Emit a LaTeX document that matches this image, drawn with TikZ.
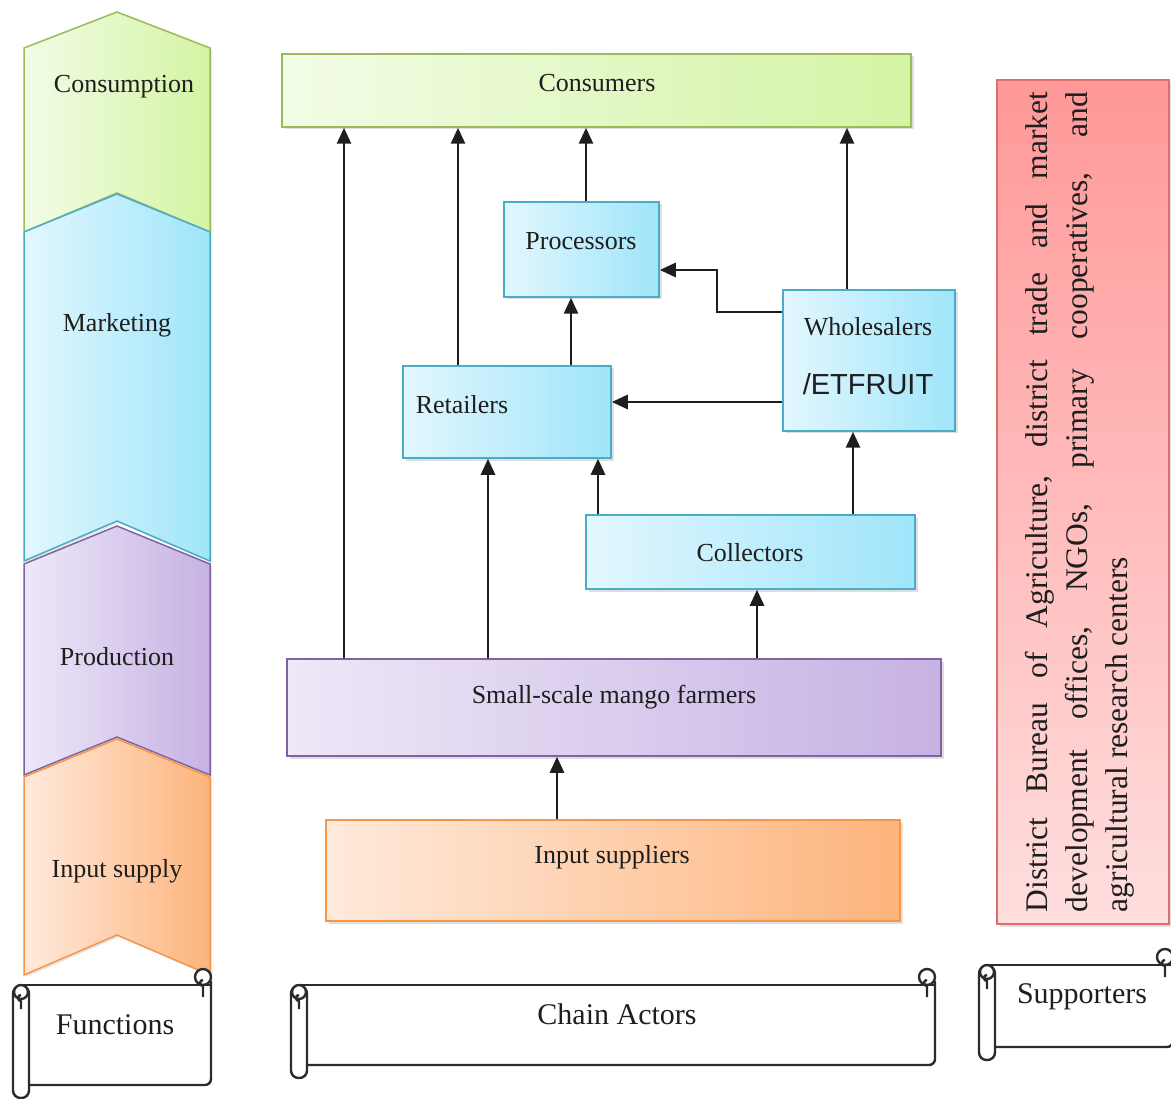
\documentclass[tikz,border=0pt]{standalone}
\usepackage{fontspec}
\setmainfont{Liberation Serif}
\newfontfamily\arialfont{Liberation Sans}
\usetikzlibrary{arrows.meta,shadows}

\definecolor{grnL}{HTML}{F2FCE6}
\definecolor{grnR}{HTML}{D4F4A4}
\definecolor{grnB}{HTML}{9BBB59}
\definecolor{bluL}{HTML}{E2F7FE}
\definecolor{bluR}{HTML}{A0E5FA}
\definecolor{bluB}{HTML}{4BACC6}
\definecolor{purL}{HTML}{EEE8F8}
\definecolor{purR}{HTML}{C6B2E3}
\definecolor{purB}{HTML}{8064A2}
\definecolor{orgL}{HTML}{FFEADC}
\definecolor{orgR}{HTML}{FDB47C}
\definecolor{orgB}{HTML}{F79646}
\definecolor{redT}{HTML}{FF9898}
\definecolor{redBot}{HTML}{FFDEDE}
\definecolor{redB}{HTML}{D9706C}
\definecolor{scrollc}{HTML}{2B2B2B}
\definecolor{ink}{HTML}{1E1E1E}

% chevron: #1 colour prefix, #2 top apex, #3 shoulder, #4 bottom corners, #5 bottom apex
\newcommand{\chevron}[5]{%
  \draw[line width=1.5pt, draw=#1B, left color=#1L, right color=#1R,
        drop shadow={shadow xshift=2pt, shadow yshift=-2pt, opacity=0.2}]
    (24,#3) -- (117,#2) -- (210,#3) -- (210,#4) -- (117,#5) -- (24,#4) -- cycle;}

% scroll banner: #1 left, #2 top edge, #3 right, #4 bottom edge
\newcommand{\scrollbanner}[4]{%
  \draw[scroll] (#1+8,#2) -- (#3,#2);
  \draw[scroll, rounded corners=6pt] (#3,#2-4) -- (#3,#4) -- (#1+10,#4);
  \draw[scroll, fill=white] (#3-8,#2-8) circle (8);
  \draw[scroll] (#3-8,#2-8) ++(0,3) arc (-90:-270:3) -- ++(0,11);
  \draw[scroll, fill=white, rounded corners=7.5pt] (#1,#2+1) rectangle (#1+16,#4+13);
  \draw[scroll, fill=white] (#1+8,#2+7) circle (7);
  \draw[scroll] (#1+8,#2+7) ++(0,3) arc (-90:-270:3) -- ++(0,8);}

\begin{document}
\begin{tikzpicture}[x=1pt,y=-1pt,
  every node/.style={text=ink, font=\fontsize{26}{30}\selectfont},
  box/.style={draw, line width=1.5pt, inner sep=0pt,
    drop shadow={shadow xshift=2.5pt, shadow yshift=-2.5pt, opacity=0.25}},
  greenbox/.style={box, draw=grnB, left color=grnL, right color=grnR},
  bluebox/.style={box, draw=bluB, left color=bluL, right color=bluR},
  purplebox/.style={box, draw=purB, left color=purL, right color=purR},
  orangebox/.style={box, draw=orgB, left color=orgL, right color=orgR},
  arr/.style={line width=2.7pt, draw=ink, -{Triangle[length=16pt,width=14pt]}},
  scroll/.style={line width=2.4pt, draw=scrollc, line join=round},
  bigtxt/.style={font=\fontsize{30}{34}\selectfont},
]
\useasboundingbox (0,0) rectangle (1171,1099);

% ---------- value chain functions ----------
\chevron{grn}{12}{48}{232}{193}
\chevron{blu}{194}{232}{561}{521}
\chevron{pur}{526}{564}{775}{737}
\chevron{org}{739}{777}{975}{935}
\node (f-cons) at (124,87)  {Consumption};
\node (f-mark) at (117,325) {Marketing};
\node (f-prod) at (117,657) {Production};
\node (f-inp)  at (117,871) {Input supply};

% ---------- chain actors ----------
\node[greenbox,  minimum width=629pt, minimum height=73pt]  (cons)  at (596.5,90.5) {};
\node[bluebox,   minimum width=155pt, minimum height=95pt]  (proc)  at (581.5,249.5) {};
\node[bluebox,   minimum width=208pt, minimum height=92pt]  (ret)   at (507,412) {};
\node[bluebox,   minimum width=172pt, minimum height=141pt] (whole) at (869,360.5) {};
\node[bluebox,   minimum width=329pt, minimum height=74pt]  (coll)  at (750.5,552) {};
\node[purplebox, minimum width=654pt, minimum height=97pt]  (farm)  at (614,707.5) {};
\node[orangebox, minimum width=574pt, minimum height=101pt] (inp)   at (613,870.5) {};

\node (cons-t)  at (597,83)  {Consumers};
\node (proc-t)  at (581,241) {Processors};
\node (ret-t)   at (462,405) {Retailers};
\node (whole-t) at (868,327) {Wholesalers};
\node[font=\arialfont\fontsize{29}{32}\selectfont] (whole-t2) at (868,384) {/ETFRUIT};
\node (coll-t)  at (750,553) {Collectors};
\node (farm-t)  at (614,697) {Small-scale mango farmers};
\node (inp-t)   at (612,857) {Input suppliers};

% ---------- flows ----------
\draw[arr] (344,0 |- farm.north) -- (344,0 |- cons.south);
\draw[arr] (458,0 |- ret.north)  -- (458,0 |- cons.south);
\draw[arr] (586,0 |- proc.north) -- (586,0 |- cons.south);
\draw[arr] (847,0 |- whole.north) -- (847,0 |- cons.south);
\draw[arr] (571,0 |- ret.north)  -- (571,0 |- proc.south);
\draw[arr] (whole.west |- 0,312) -- (717,312) -- (717,270) -- (proc.east |- 0,270);
\draw[arr] (whole.west |- 0,402) -- (ret.east |- 0,402);
\draw[arr] (488,0 |- farm.north) -- (488,0 |- ret.south);
\draw[arr] (598,0 |- coll.north) -- (598,0 |- ret.south);
\draw[arr] (853,0 |- coll.north) -- (853,0 |- whole.south);
\draw[arr] (757,0 |- farm.north) -- (757,0 |- coll.south);
\draw[arr] (557,0 |- inp.north)  -- (557,0 |- farm.south);

% ---------- supporters ----------
\node[draw=redB, line width=1.5pt, top color=redT, bottom color=redBot,
      minimum width=172pt, minimum height=844pt, inner sep=0pt,
      drop shadow={shadow xshift=2.5pt, shadow yshift=-2.5pt, opacity=0.25}]
  (supp) at (1083,502) {};
\node[rotate=90, text width=820pt, align=justify, inner sep=0pt,
      font=\fontsize{31.5}{40}\selectfont] (supp-t) at (1080,502)
  {District Bureau of Agriculture, district trade and market\break
   development offices, NGOs, primary cooperatives, and\break
   agricultural research centers};

% ---------- banners ----------
\scrollbanner{13}{985}{211}{1085}
\scrollbanner{291}{985}{935}{1065}
\scrollbanner{979}{965}{1173}{1047}
\node[bigtxt] (b-func)  at (115,1025) {Functions};
\node[bigtxt] (b-chain) at (617,1014) {Chain Actors};
\node[bigtxt] (b-supp)  at (1082,997) {Supporters};
\end{tikzpicture}
\end{document}
